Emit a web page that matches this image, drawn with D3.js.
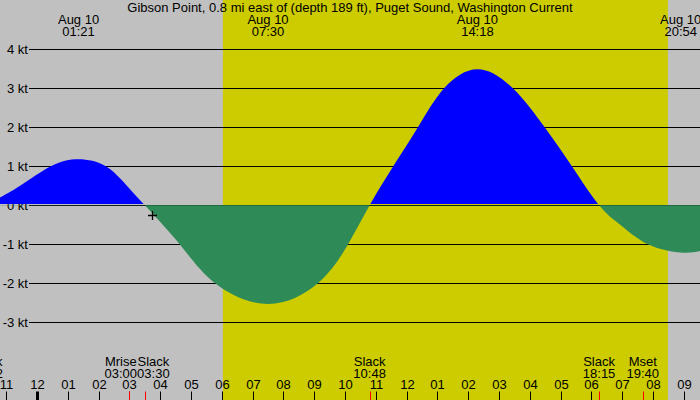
<!DOCTYPE html>
<html lang="en">
    <head>
        <meta charset="utf-8">
        <style type="text/css">
            body { margin: 0; background: #c0c0c0; }
            svg text {
                font-family: "Liberation Sans", Arial, sans-serif;
                font-size: 13px;
                fill: black;
            }
        </style>
        <script src="https://cdn.jsdelivr.net/npm/d3@7"></script>
    </head>
    <body>
<script>

// ---- data ----
var title = "Gibson Point, 0.8 mi east of (depth 189 ft), Puget Sound, Washington Current"

// current speed (kt) at times
var curveTimes = ["2024-08-09 22:22", "2024-08-09 22:48", "2024-08-09 23:27", "2024-08-10 00:27",
                  "2024-08-10 01:21", "2024-08-10 02:14", "2024-08-10 02:55", "2024-08-10 03:30",
                  "2024-08-10 04:38", "2024-08-10 05:47", "2024-08-10 07:30", "2024-08-10 09:07",
                  "2024-08-10 10:06", "2024-08-10 10:48", "2024-08-10 11:34", "2024-08-10 12:22",
                  "2024-08-10 13:13", "2024-08-10 14:18", "2024-08-10 15:27", "2024-08-10 16:29",
                  "2024-08-10 17:22", "2024-08-10 18:15", "2024-08-10 18:56", "2024-08-10 19:50",
                  "2024-08-10 20:54", "2024-08-10 21:32"]
var curveKnots = [0, 0.2, 0.5, 1.0,
                  1.18, 1.0, 0.5, 0,
                  -1.0, -2.0, -2.53, -2.0,
                  -1.0, 0, 1.0, 2.0,
                  3.0, 3.49, 3.0, 2.0,
                  1.0, 0, -0.5, -1.0,
                  -1.21, -1.17]

// max / min events labelled on top
var peakTimes = ["2024-08-10 01:21", "2024-08-10 07:30", "2024-08-10 14:18", "2024-08-10 20:54"]
var peakDates = ["Aug 10", "Aug 10", "Aug 10", "Aug 10"]

// events labelled at the bottom (red ticks)
var eventNames = ["Slack", "Mrise", "Slack", "Slack", "Slack", "Mset"]
var eventTimes = ["2024-08-09 22:22", "2024-08-10 03:00", "2024-08-10 03:30",
                  "2024-08-10 10:48", "2024-08-10 18:15", "2024-08-10 19:40"]

// daylight
var sunrise = "2024-08-10 06:02"
var sunset = "2024-08-10 20:29"

// crosshair mark
var markTime = "2024-08-10 03:44"
var markValue = -0.24

var ktTicks = [4, 3, 2, 1, 0, -1, -2, -3]
var viewStart = "2024-08-09 22:47:55"
var viewEnd = "2024-08-10 21:31:34"

// ---- drawing ----
var width = 700, height = 400

var parse = d3.utcParse("%Y-%m-%d %H:%M")
var parseSec = d3.utcParse("%Y-%m-%d %H:%M:%S")
var fmtTime = d3.utcFormat("%H:%M")

var svg = d3.select("body")
            .append("svg")
            .attr("width", width)
            .attr("height", height)

var x = d3.scaleUtc()
          .domain([parseSec(viewStart), parseSec(viewEnd)])
          .range([0, width])

var y = d3.scaleLinear()
          .domain([-3, 4])
          .range([322.3, 49.3])

var y0 = y(0)

// background and daylight
svg.append("rect")
    .attr("width", width)
    .attr("height", height)
    .attr("fill", "#c0c0c0")

svg.append("rect")
    .attr("x", x(parse(sunrise)))
    .attr("width", x(parse(sunset)) - x(parse(sunrise)))
    .attr("y", 0)
    .attr("height", height)
    .attr("fill", "#cccc00")

// horizontal kt lines with labels
ktTicks.forEach(function(k) {
    var yy = Math.round(y(k)) + 0.5
    svg.append("line")
        .attr("x1", 29).attr("x2", width)
        .attr("y1", yy).attr("y2", yy)
        .attr("stroke", "black")
        .attr("stroke-width", 1)
    svg.append("text")
        .attr("x", 28)
        .attr("y", yy + 4.5)
        .attr("text-anchor", "end")
        .text(k + " kt")
})

// current area, blue for flood, green for ebb
var data = curveTimes.map(function(t, i) { return {t: parse(t), v: curveKnots[i]} })

var area = d3.area()
    .x(function(d) { return x(d.t) })
    .y0(y0)
    .y1(function(d) { return y(d.v) })
    .curve(d3.curveNatural)

var defs = svg.append("defs")
defs.append("clipPath").attr("id", "above")
    .append("rect").attr("x", 0).attr("y", 0).attr("width", width).attr("height", Math.round(y0) - 1)
defs.append("clipPath").attr("id", "below")
    .append("rect").attr("x", 0).attr("y", Math.round(y0)).attr("width", width).attr("height", height)

svg.append("path")
    .datum(data)
    .attr("d", area)
    .attr("fill", "#0000ff")
    .attr("clip-path", "url(#above)")

svg.append("path")
    .datum(data)
    .attr("d", area)
    .attr("fill", "#2e8b57")
    .attr("clip-path", "url(#below)")

// crosshair
var mx = Math.round(x(parse(markTime))) + 0.5, my = Math.round(y(markValue)) + 0.5
svg.append("path")
    .attr("d", "M" + (mx - 4.5) + "," + my + "H" + (mx + 4.5) + "M" + mx + "," + (my - 4.5) + "V" + (my + 4.5))
    .attr("stroke", "black")
    .attr("stroke-width", 1.3)

// title
svg.append("text")
    .attr("x", width / 2)
    .attr("y", 12)
    .attr("text-anchor", "middle")
    .text(title)

// max / min labels on top
peakTimes.forEach(function(t, i) {
    var px = x(parse(t))
    svg.append("text").attr("x", px).attr("y", 24).attr("text-anchor", "middle").text(peakDates[i])
    svg.append("text").attr("x", px).attr("y", 36).attr("text-anchor", "middle").text(fmtTime(parse(t)))
})

// hour ticks along the bottom
var hours = x.ticks(d3.utcHour.every(1))
hours.forEach(function(h) {
    var hx = Math.round(x(h)) + 0.5
    var midnight = h.getUTCHours() === 0
    svg.append("line")
        .attr("x1", hx).attr("x2", hx)
        .attr("y1", 391.5).attr("y2", height)
        .attr("stroke", "black")
        .attr("stroke-width", midnight ? 3 : 1)
    svg.append("text")
        .attr("x", hx)
        .attr("y", 389)
        .attr("text-anchor", "middle")
        .text(d3.utcFormat("%I")(h))
})

// event labels, pushed apart when they overlap
var events = eventTimes.map(function(t, i) {
    return {name: eventNames[i], t: parse(t), x: x(parse(t))}
})

var evG = svg.selectAll(".event")
    .data(events)
    .enter()
    .append("g")
    .attr("class", "event")

evG.append("text").attr("class", "n").attr("y", 365.5).attr("text-anchor", "middle").text(function(d) { return d.name })
evG.append("text").attr("class", "tm").attr("y", 377.5).attr("text-anchor", "middle").text(function(d) { return fmtTime(d.t) })

evG.each(function(d) {
    var g = d3.select(this)
    d.w = Math.max(g.select(".n").node().getComputedTextLength(), g.select(".tm").node().getComputedTextLength())
    d.lx = d.x
})

for (var it = 0; it < 10; it++) {
    for (var i = 1; i < events.length; i++) {
        var a = events[i - 1], b = events[i]
        var gap = (b.lx - b.w / 2) - (a.lx + a.w / 2)
        if (gap < 0) {
            a.lx += gap / 2
            b.lx -= gap / 2
        }
    }
}

evG.selectAll("text").attr("x", function() { return d3.select(this.parentNode).datum().lx })

evG.append("line")
    .attr("x1", function(d) { return Math.round(d.x) + 0.5 })
    .attr("x2", function(d) { return Math.round(d.x) + 0.5 })
    .attr("y1", 391.5)
    .attr("y2", height)
    .attr("stroke", "red")
    .attr("stroke-width", 1)

</script>
</body>
</html>
